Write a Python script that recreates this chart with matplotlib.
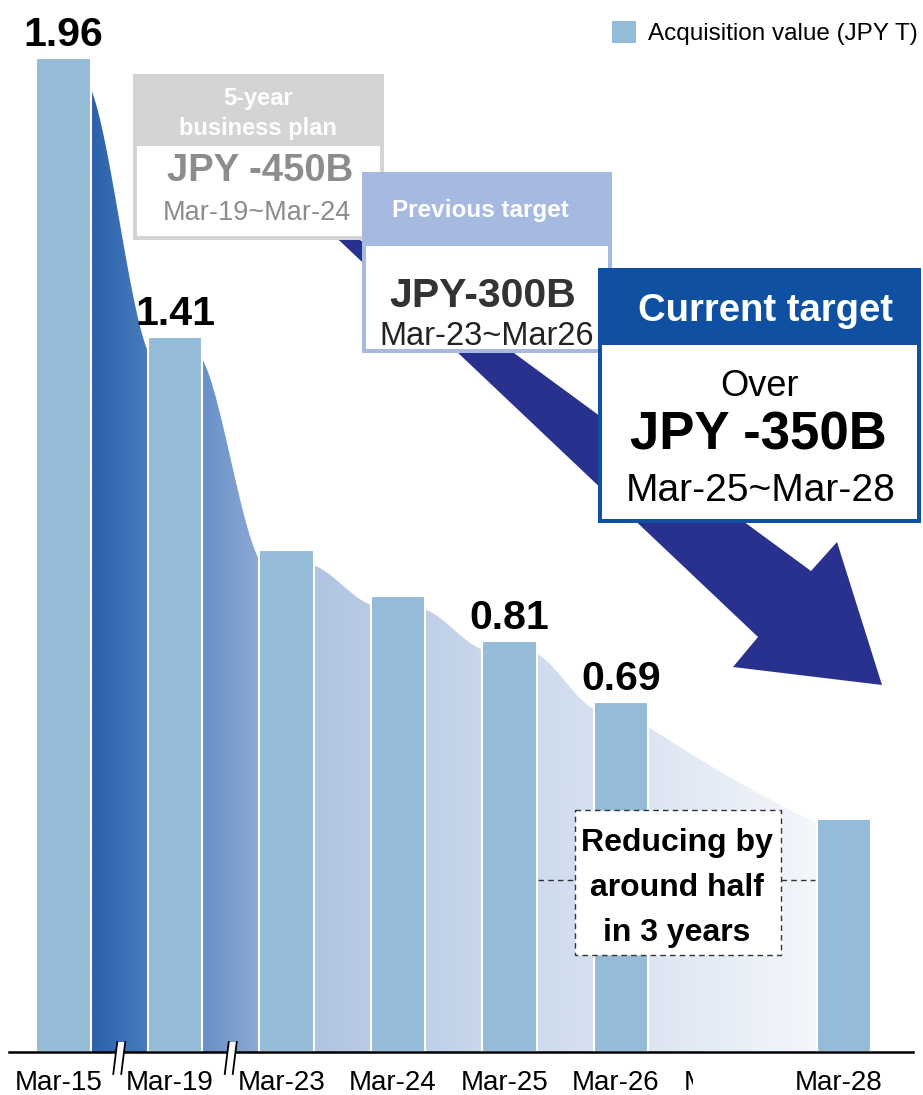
import numpy as np
import matplotlib
matplotlib.use('Agg')
import matplotlib.pyplot as plt
from matplotlib.patches import Rectangle, Polygon, Patch
from matplotlib.colors import LinearSegmentedColormap
from matplotlib.transforms import Affine2D
from matplotlib.lines import Line2D

plt.rcParams['font.family'] = ['Liberation Sans', 'DejaVu Sans']

# ---------------- data ----------------
categories = ['Mar-15', 'Mar-19', 'Mar-23', 'Mar-24', 'Mar-25', 'Mar-26', 'Mar-27', 'Mar-28']
values = [1.96, 1.41, 0.99, 0.90, 0.81, 0.69, np.nan, 0.46]
show_value = [True, True, False, False, True, True, False, False]
legend_label = 'Acquisition value (JPY T)'
break_after = [0, 1]          # axis breaks after these categories
hidden_tick = ['Mar-27']      # tick covered in the original

# ---------------- figure ----------------
W, H = 923, 1095
fig = plt.figure(figsize=(W / 100, H / 100), dpi=100)
ax = fig.add_axes([0, 0, 1, 1])
XLIM = (-0.5695, 7.7085)
YLIM = (-0.0848, 2.0750)
ax.set_xlim(*XLIM)
ax.set_ylim(*YLIM)
ax.axis('off')

pxT = Affine2D().scale(1 / W, -1 / H).translate(0, 1) + fig.transFigure

BAR_C = '#94bcd9'
bw = 0.485
x = np.arange(len(categories))

# ---------------- gradient area behind bars ----------------
valid = [i for i, v in enumerate(values) if not np.isnan(v)]
cx_, cy_ = [], []
for a, b in zip(valid[:-1], valid[1:]):
    gap = b - a
    x0, x1 = x[a] + bw / 2, x[b] - bw / 2
    y0, y1 = values[a] * (0.97 - 0.04 * (gap - 1)), values[b] * 0.98
    t = np.linspace(0, 1, 80)
    if gap > 1:
        s = 0.85 * t + 0.15 * (1 - (1 - t) ** 2)
    else:
        s = 0.5 * t + 0.5 * t * t * (3 - 2 * t)
    cx_.extend(x0 + (x1 - x0) * t)
    cy_.extend(y0 + (y1 - y0) * s)
gx0, gx1 = x[valid[0]] + bw / 2, x[valid[-1]] - bw / 2
poly_pts = [(gx0, 0)] + list(zip(cx_, cy_)) + [(gx1, 0)]
area = Polygon(poly_pts, closed=True, facecolor='none', edgecolor='none')
ax.add_patch(area)

gap_colors = [('#2c61ac', '#4a7dbd'), ('#6690c7', '#90a9d5'), ('#b0c4e2', '#b9cbe5'),
              ('#bfd0e7', '#c8d7eb'), ('#cedbee', '#d5e1f0'), ('#dce5f2', '#f4f7fb')]
stops = []
for (a, b), (c0, c1) in zip(zip(valid[:-1], valid[1:]), gap_colors):
    stops.append(((x[a] + bw / 2 - gx0) / (gx1 - gx0), c0))
    stops.append(((x[b] - bw / 2 - gx0) / (gx1 - gx0), c1))
cmap = LinearSegmentedColormap.from_list('grad', stops)
grad = np.linspace(0, 1, 1024)[None, :]
im = ax.imshow(grad, extent=[gx0, gx1, 0, max(v for v in values if not np.isnan(v))],
               aspect='auto', cmap=cmap, origin='lower', zorder=1, interpolation='bilinear')
im.set_clip_path(area)
ax.set_xlim(*XLIM)
ax.set_ylim(*YLIM)

# ---------------- bars ----------------
ax.bar(x, np.nan_to_num(values), width=bw, color=BAR_C, edgecolor='white',
       linewidth=1.5, zorder=2)
for xi, v, sh in zip(x, values, show_value):
    if sh:
        ax.annotate(f'{v:.2f}', (xi, v), xytext=(0, 8.6), textcoords='offset points',
                    ha='center', va='baseline', fontsize=29.5, fontweight='bold',
                    color='black', zorder=7)

# ---------------- baseline, ticks, breaks ----------------
ax.axhline(0, xmin=9 / W, xmax=913 / W, color='black', lw=1.8, zorder=5)
for xi, lab in zip(x, categories):
    ax.text(xi, 0, lab, ha='center', va='baseline', fontsize=20, color='black',
            transform=ax.transData + Affine2D().translate(-5, -38), zorder=3)
for lab in hidden_tick:
    i = categories.index(lab)
    dx = ax.transData.transform((x[i], 0))[0] - 5
    ax.add_patch(Rectangle((dx - 35, 1056), 100, 39, transform=pxT, facecolor='white',
                           edgecolor='none', zorder=3.5, clip_on=False))
for b in break_after:
    d = ax.transData.transform((x[b] + 0.5, 0))
    cxp, cyp = d[0], H - d[1]
    pts = [(cxp - 6, cyp + 22), (cxp - 2, cyp - 10), (cxp + 6, cyp - 10), (cxp + 2, cyp + 22)]
    ax.add_patch(Polygon(pts, closed=True, transform=pxT, facecolor='white',
                         edgecolor='none', zorder=6))
    for (p, q) in [(pts[0], pts[1]), (pts[3], pts[2])]:
        ax.add_line(Line2D([p[0], q[0]], [p[1], q[1]], transform=pxT, color='black',
                           lw=1.3, zorder=6.1))

# ---------------- legend ----------------
leg = ax.legend(handles=[Patch(facecolor=BAR_C, edgecolor='none')], labels=[legend_label],
                loc='upper right', bbox_to_anchor=(918 / W, 1 - 21 / H),
                bbox_transform=fig.transFigure, frameon=False, fontsize=17.5,
                handlelength=1.0, handleheight=1.0, handletextpad=0.5,
                borderpad=0, borderaxespad=0)

# ---------------- helpers ----------------
def ptxt(xp, yc, s, size, z, **kw):
    base = yc + 0.36 * size * 100 / 72
    ax.text(xp, base, s, transform=pxT, ha='center', va='baseline', fontsize=size,
            zorder=z, clip_on=False, **kw)

def box(x0, y0, x1, y1, hy, col, z, bd=4):
    ax.add_patch(Rectangle((x0, y0), x1 - x0, y1 - y0, transform=pxT, facecolor=col,
                           edgecolor='none', zorder=z, clip_on=False))
    ax.add_patch(Rectangle((x0 + bd, hy), x1 - x0 - 2 * bd, y1 - hy - bd, transform=pxT,
                           facecolor='white', edgecolor='none', zorder=z, clip_on=False))

# ---------------- big arrow ----------------
arrow = [(266, 171), (758, 637), (733, 667), (882, 685), (837, 542), (811, 571)]
ax.add_patch(Polygon(arrow, closed=True, transform=pxT, facecolor='#29318f',
                     edgecolor='none', zorder=3, clip_on=False))

# ---------------- 5-year business plan box ----------------
box(133, 74, 384, 240, 146, '#d4d4d4', 4)
ptxt(258, 97, '5-year', 17, 4.1, color='white', fontweight='bold')
ptxt(258, 127, 'business plan', 17, 4.1, color='white', fontweight='bold')
ptxt(260, 167, 'JPY -450B', 27.5, 4.1, color='#8c8c8c', fontweight='bold')
ptxt(257, 210, 'Mar-19~Mar-24', 19.5, 4.1, color='#8c8c8c')

# ---------------- previous target box ----------------
box(362, 172, 612, 353, 246, '#a6b9e1', 5)
ptxt(480, 208, 'Previous target', 17.5, 5.1, color='white', fontweight='bold')
ptxt(483, 292, 'JPY-300B', 29.5, 5.1, color='#333333', fontweight='bold')
ptxt(487, 333, 'Mar-23~Mar26', 23.5, 5.1, color='#222222')

# ---------------- current target box ----------------
box(598, 268, 921, 523, 345, '#1050a2', 6)
ptxt(765, 307, 'Current target', 27.5, 6.1, color='white', fontweight='bold')
ptxt(760, 383, 'Over', 26, 6.1, color='black')
ptxt(758, 430, 'JPY -350B', 38, 6.1, color='black', fontweight='bold')
ptxt(761, 487, 'Mar-25~Mar-28', 28, 6.1, color='black')

# ---------------- reducing box ----------------
ycon = 0.339
ax.plot([x[4] + bw / 2 + 0.01, x[7] - bw / 2 - 0.02], [ycon, ycon], color='#333333',
        lw=1.0, ls=(0, (4, 3)), zorder=2.5)
ax.add_patch(Rectangle((575, 810), 206, 145, transform=pxT, facecolor='white',
                       edgecolor='#333333', lw=1.0, ls=(0, (4, 3)), zorder=4, clip_on=False))
for yy, s in zip([840, 885, 930], ['Reducing by', 'around half', 'in 3 years']):
    ptxt(677, yy, s, 23, 4.1, color='black', fontweight='bold')

fig.savefig('out.png', dpi=100)
